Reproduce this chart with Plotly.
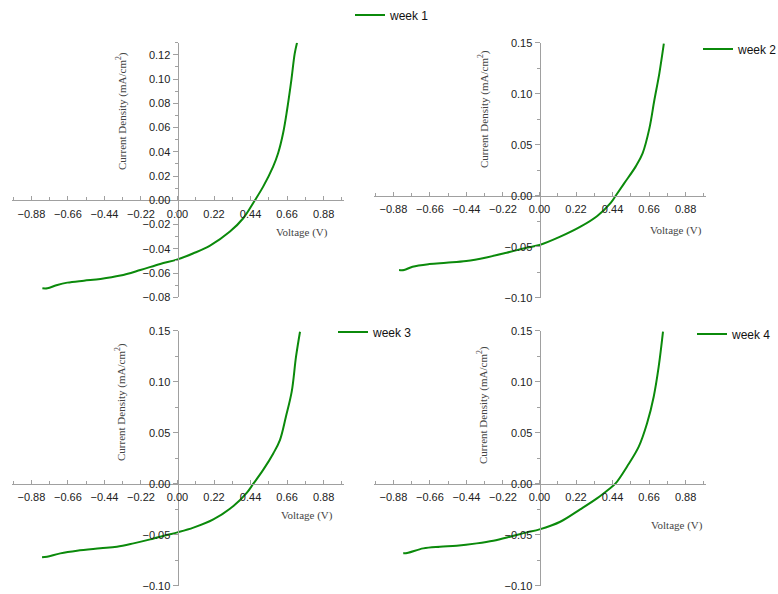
import plotly.graph_objects as go

W, H = 778, 594

# ---- data ----
v1 = [-0.814, -0.784, -0.724, -0.664, -0.564, -0.464, -0.344, -0.224, -0.104, 0.0, 0.096, 0.196, 0.316, 0.396, 0.466, 0.516, 0.576, 0.606, 0.636, 0.66, 0.686, 0.706, 0.72]
j1 = [-0.0726, -0.0726, -0.0698, -0.0679, -0.0663, -0.0649, -0.0621, -0.0575, -0.0525, -0.0487, -0.0437, -0.0374, -0.0258, -0.0148, 0.0, 0.0113, 0.0278, 0.0388, 0.0553, 0.0745, 0.0993, 0.121, 0.130]

v2 = [-0.846, -0.816, -0.765, -0.664, -0.562, -0.441, -0.320, -0.198, -0.077, 0.0, 0.125, 0.247, 0.348, 0.429, 0.459, 0.510, 0.581, 0.621, 0.662, 0.692, 0.722, 0.749]
j2 = [-0.0729, -0.0729, -0.0696, -0.067, -0.0657, -0.064, -0.0605, -0.0559, -0.051, -0.0484, -0.0402, -0.0304, -0.0199, -0.0070, 0.0, 0.0121, 0.0290, 0.0415, 0.066, 0.0938, 0.12, 0.149]

v3 = [-0.816, -0.786, -0.706, -0.605, -0.465, -0.365, -0.265, -0.164, -0.064, 0.0, 0.096, 0.216, 0.337, 0.417, 0.457, 0.517, 0.577, 0.617, 0.653, 0.688, 0.714, 0.738]
j3 = [-0.0722, -0.0716, -0.0683, -0.0657, -0.0634, -0.0618, -0.0585, -0.0546, -0.0503, -0.0477, -0.0431, -0.035, -0.0219, -0.0090, 0.0, 0.0138, 0.0297, 0.0428, 0.0657, 0.0902, 0.1245, 0.149]

v4 = [-0.821, -0.791, -0.700, -0.600, -0.499, -0.378, -0.278, -0.177, -0.076, 0.0, 0.125, 0.245, 0.346, 0.416, 0.457, 0.527, 0.598, 0.648, 0.688, 0.718, 0.744]
j4 = [-0.0683, -0.0676, -0.0634, -0.0618, -0.0608, -0.0585, -0.0559, -0.052, -0.0477, -0.0448, -0.0373, -0.0252, -0.0144, -0.0056, 0.0, 0.0167, 0.0363, 0.0592, 0.0853, 0.1147, 0.149]

names = ["week 1", "week 2", "week 3", "week 4"]
x_title = "Voltage (V)"
y_title = "Current Density (mA/cm<sup>2</sup>)"

GREEN = "#0b8a0b"
AXC = "#a0a0a0"
TICKFONT = dict(family="Liberation Sans, Arial, sans-serif", size=11, color="#222222")
TITLEFONT = dict(family="Liberation Serif, Times New Roman, serif", size=11, color="#444444")
LEGFONT = dict(family="Liberation Sans, Arial, sans-serif", size=12, color="#111111")

def fx(px):
    return px / W

def fy(py):
    return 1 - py / H

# panel geometry in pixels
panels = [
    dict(xl=11.5, xr=343.5, yt=42.7, yb=297.3, y0=200.3, yr=[-0.08, 0.13], dt=0.02),
    dict(xl=373.5, xr=705.5, yt=42.7, yb=297.7, y0=195.7, yr=[-0.10, 0.15], dt=0.05),
    dict(xl=11.5, xr=343.5, yt=330.7, yb=585.7, y0=483.7, yr=[-0.10, 0.15], dt=0.05),
    dict(xl=373.5, xr=705.5, yt=330.7, yb=585.7, y0=483.7, yr=[-0.10, 0.15], dt=0.05),
]
xs = [v1, v2, v3, v4]
ys = [j1, j2, j3, j4]
legpos = [(350, 15), (698, 49), (333, 332), (692, 334)]
ytitle_pos = [(122, 111), (483, 109), (120, 402), (483, 405)]
xtitle_pos = [(302, 232), (676, 231), (307, 515), (677, 525)]

fig = go.Figure()
layout = dict(width=W, height=H, margin=dict(l=0, r=0, t=0, b=0, autoexpand=False),
              paper_bgcolor="white", plot_bgcolor="rgba(0,0,0,0)", showlegend=True)
annotations = []

for i, p in enumerate(panels):
    k = "" if i == 0 else str(i + 1)
    leg = "legend" if i == 0 else "legend" + str(i + 1)
    fig.add_trace(go.Scatter(x=xs[i], y=ys[i], mode="lines", name=names[i],
                             line=dict(color=GREEN, width=2, shape="spline", smoothing=1.0),
                             xaxis="x" + k, yaxis="y" + k, legend=leg, cliponaxis=True))
    zero_x_px = (p["xl"] + p["xr"]) / 2
    layout["xaxis" + k] = dict(
        domain=[fx(p["xl"]), fx(p["xr"])], range=[-1.0, 1.0], anchor="free",
        position=fy(p["y0"]), showline=True, linecolor=AXC, linewidth=1,
        ticks="inside", ticklen=4, tickcolor=AXC, tick0=0, dtick=0.22, tickformat=".2f",
        minor=dict(ticks="inside", ticklen=3, dtick=0.11, tick0=0, tickcolor=AXC),
        showgrid=False, zeroline=False, tickfont=TICKFONT, ticklabelstandoff=3)
    layout["yaxis" + k] = dict(
        domain=[fy(p["yb"]), fy(p["yt"])], range=p["yr"], anchor="free",
        position=fx(zero_x_px), showline=True, linecolor=AXC, linewidth=1,
        ticks="outside", ticklen=5, tickcolor=AXC, tick0=0, dtick=p["dt"], tickformat=".2f",
        minor=dict(ticks="outside", ticklen=3, dtick=p["dt"] / 2, tick0=0, tickcolor=AXC),
        showgrid=False, zeroline=False, tickfont=TICKFONT)
    lx, ly = legpos[i]
    layout[leg] = dict(x=fx(lx), y=fy(ly), xanchor="left", yanchor="middle",
                       bgcolor="rgba(0,0,0,0)", font=LEGFONT, borderwidth=0)
    tx, ty = ytitle_pos[i]
    annotations.append(dict(text=y_title, x=fx(tx), y=fy(ty), xref="paper", yref="paper",
                            showarrow=False, textangle=-90, font=TITLEFONT,
                            xanchor="center", yanchor="middle"))
    vx, vy = xtitle_pos[i]
    annotations.append(dict(text=x_title, x=fx(vx), y=fy(vy), xref="paper", yref="paper",
                            showarrow=False, font=TITLEFONT, xanchor="center", yanchor="middle"))

layout["annotations"] = annotations
fig.update_layout(**layout)
fig.write_html("out.html")
